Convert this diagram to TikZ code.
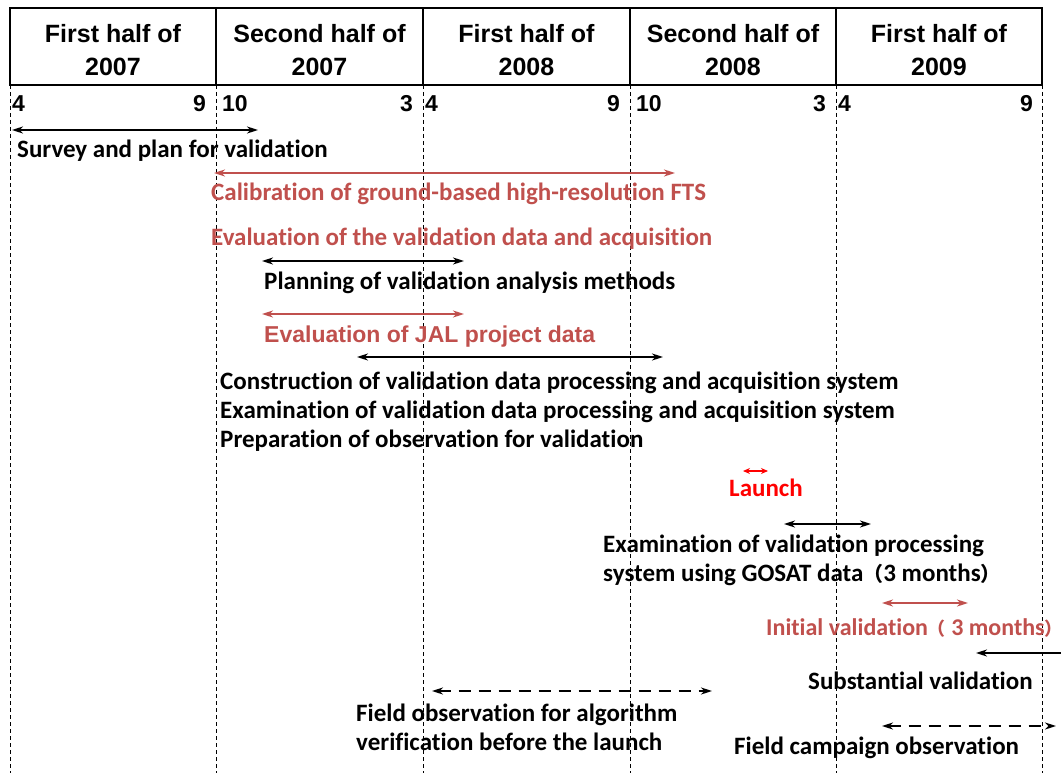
\documentclass[tikz,border=0pt]{standalone}
\usepackage{fontspec}
\setmainfont{Carlito}[Ligatures=NoCommon]
\newfontfamily\hdr{Liberation Sans}
\newfontfamily\cjk{Noto Sans CJK JP}
\usetikzlibrary{arrows.meta}
\definecolor{rd}{HTML}{C0504D}
\definecolor{lr}{HTML}{FF0000}
\newcommand{\flp}[1]{{\cjk\fontsize{#1}{29}\selectfont （}}
\newcommand{\frp}[1]{{\cjk\fontsize{#1}{29}\selectfont ）}}
\begin{document}
\begin{tikzpicture}[x=1pt,y=-1pt,
  hdrtext/.style={font=\hdr\bfseries\fontsize{25}{33}\selectfont, align=center, inner sep=0},
  mon/.style={font=\hdr\bfseries\fontsize{23}{24}\selectfont, inner sep=0},
  lbl/.style={font=\bfseries\fontsize{25}{29}\selectfont, anchor=west, inner sep=0, align=left},
  rlbl/.style={lbl, text=rd},
  grid/.style={line width=0.9pt, dash pattern=on 4pt off 3pt},
  span/.style={{Stealth[length=11pt,width=7pt,inset=3.5pt]}-{Stealth[length=11pt,width=7pt,inset=3.5pt]}, line width=1.8pt},
  rspan/.style={span, draw=rd},
  dspan/.style={span, dash pattern=on 12pt off 8pt}
]
\useasboundingbox (0,0) rectangle (1061,773);
% header
\draw[line width=1.5pt] (10,8) rectangle (1042,85);
\foreach \x in {216,423,630,836}{\draw[line width=1.5pt] (\x,8) -- (\x,85);}
% dashed grid
\foreach \x/\n in {10/a,216/b,423/c,630/d,836/e,1042/f}{
  \coordinate (g\n t) at (\x,85);
  \coordinate (g\n b) at (\x,773);
  \draw[grid] (g\n t) -- (g\n b);
}
\node[hdrtext] (h1) at (113,50) {First half of\\2007};
\node[hdrtext] (h2) at (319.5,50) {Second half of\\2007};
\node[hdrtext] (h3) at (526.5,50) {First half of\\2008};
\node[hdrtext] (h4) at (733,50) {Second half of\\2008};
\node[hdrtext] (h5) at (939,50) {First half of\\2009};
% months
\node[mon,anchor=west] (m1a) at (12,104) {4};
\node[mon,anchor=east] (m1b) at (206,104) {9};
\node[mon,anchor=west] (m2a) at (222,104) {10};
\node[mon,anchor=east] (m2b) at (413,104) {3};
\node[mon,anchor=west] (m3a) at (425,104) {4};
\node[mon,anchor=east] (m3b) at (620,104) {9};
\node[mon,anchor=west] (m4a) at (636,104) {10};
\node[mon,anchor=east] (m4b) at (826,104) {3};
\node[mon,anchor=west] (m5a) at (838,104) {4};
\node[mon,anchor=east] (m5b) at (1033,104) {9};
% 1 survey
\coordinate (s1) at (12,130); \coordinate (e1) at (258,130);
\draw[span] (s1) -- (e1);
\node[lbl] (t1) at (17,151) {Survey and plan for validation};
% 2 calibration
\coordinate (s2) at (214,173); \coordinate (e2) at (675,173);
\draw[rspan] (s2) -- (e2);
\node[rlbl] (t2) at (211,194) {Calibration of ground-based high-resolution FTS};
\node[rlbl] (t3) at (211,239) {Evaluation of the validation data and acquisition};
% 4 planning
\coordinate (s4) at (262,261); \coordinate (e4) at (464,261);
\draw[span] (s4) -- (e4);
\node[lbl] (t4) at (264,283) {Planning of validation analysis methods};
% 5 JAL
\coordinate (s5) at (262,314); \coordinate (e5) at (464,314);
\draw[rspan] (s5) -- (e5);
\node[rlbl, font=\hdr\bfseries\fontsize{23}{29}\selectfont] (t5) at (264,337) {Evaluation of JAL project data};
% 6 construction
\coordinate (s6) at (357,357); \coordinate (e6) at (663,357);
\draw[span] (s6) -- (e6);
\node[lbl] (t6) at (220,412) {Construction of validation data processing and acquisition system\\Examination of validation data processing and acquisition system\\Preparation of observation for validation};
% 7 launch
\coordinate (s7) at (743,471); \coordinate (e7) at (768,471);
\draw[{Stealth[length=7pt,width=6pt]}-{Stealth[length=7pt,width=6pt]}, draw=lr, line width=1.2pt] (s7) -- (e7);
\node[lbl, text=lr] (t7) at (729,488) {Launch};
% 8 examination GOSAT
\coordinate (s8) at (784,524); \coordinate (e8) at (871,524);
\draw[span] (s8) -- (e8);
\node[lbl] (t8) at (603,560.5) {Examination of validation processing\\system using GOSAT data\flp{20}3 months\frp{20}};
% 9 initial validation
\coordinate (s9) at (882,603); \coordinate (e9) at (968,603);
\draw[rspan] (s9) -- (e9);
\node[rlbl, font=\bfseries\fontsize{24}{29}\selectfont] (t9) at (766,628) {Initial validation\flp{18} 3 months\frp{18}};
% 10 substantial
\coordinate (s10) at (1070,653); \coordinate (e10) at (976,653);
\draw[-{Stealth[length=11pt,width=7pt,inset=3.5pt]}, line width=1.8pt] (s10) -- (e10);
\node[lbl] (t10) at (808,681) {Substantial validation};
% 11 field observation
\coordinate (s11) at (432,691); \coordinate (e11) at (712,691);
\draw[dspan] (s11) -- (e11);
\node[lbl] (t11) at (356,727.5) {Field observation for algorithm\\verification before the launch};
% 12 field campaign
\coordinate (s12) at (882,726); \coordinate (e12) at (1056,726);
\draw[dspan] (s12) -- (e12);
\node[lbl] (t12) at (734,748) {Field campaign observation};
\end{tikzpicture}
\end{document}
